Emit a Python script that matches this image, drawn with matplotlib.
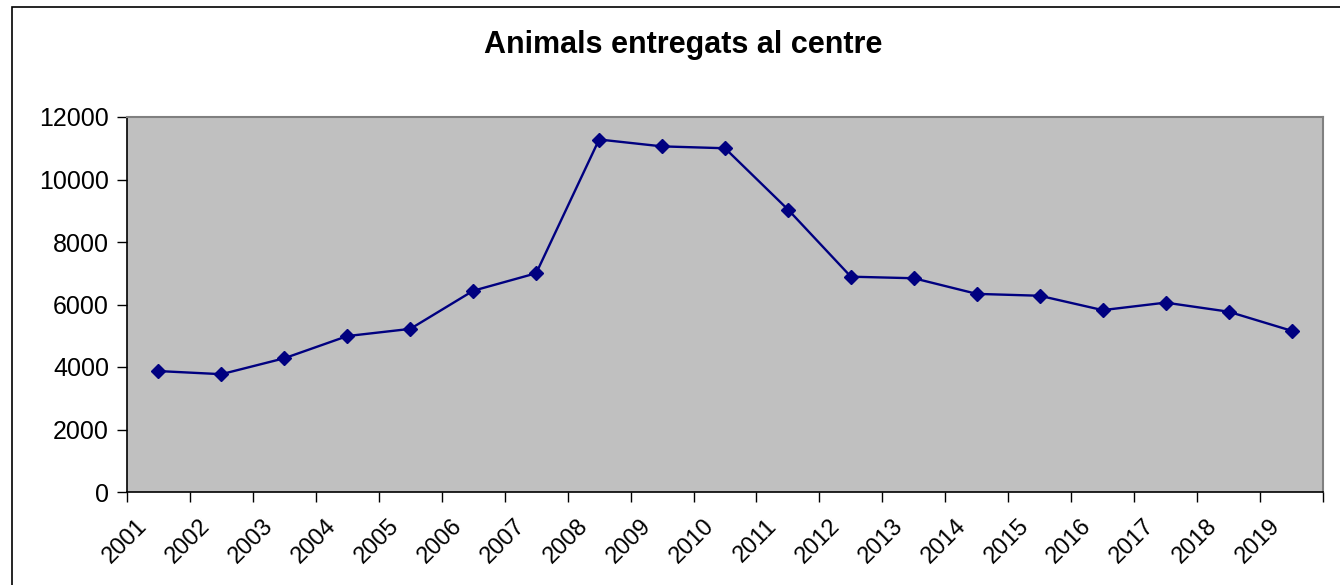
import matplotlib.pyplot as plt
from matplotlib.patches import Rectangle

plt.rcParams['font.family'] = ['Liberation Sans', 'DejaVu Sans']

# Dades
years = ['2001', '2002', '2003', '2004', '2005', '2006', '2007', '2008', '2009', '2010',
         '2011', '2012', '2013', '2014', '2015', '2016', '2017', '2018', '2019']
animals = [3870, 3770, 4280, 4990, 5220, 6440, 7000, 11280, 11060, 11000,
           9040, 6890, 6840, 6340, 6280, 5820, 6060, 5770, 5160]

fig = plt.figure(figsize=(13.4, 5.85), dpi=100)
ax = fig.add_axes([127 / 1340, 1 - 492 / 585, (1323 - 127) / 1340, (492 - 117) / 585])

# Marc exterior del gràfic
fig.patches.append(Rectangle((12 / 1340, -0.1), 1.2, 1 - 7 / 585 + 0.1,
                             transform=fig.transFigure, fill=False,
                             edgecolor='black', linewidth=1.2))

x = [i + 0.5 for i in range(len(years))]
ax.plot(x, animals, color='#000080', linewidth=1.7, marker='D', markersize=7,
        markerfacecolor='#000080', markeredgecolor='#000080')

ax.set_facecolor('#C0C0C0')
ax.set_xlim(0, len(years))
ax.set_ylim(0, 12000)
ax.set_yticks(range(0, 12001, 2000))
ax.set_xticks(range(len(years) + 1))
ax.set_xticklabels([])
# etiquetes una mica a l'esquerra del centre de la categoria, com a Excel
ax.set_xticks([i + 0.27 for i in range(len(years))], minor=True)
ax.set_xticklabels(years, minor=True, rotation=45, ha='right', va='center',
                   rotation_mode='anchor', fontsize=17)
ax.tick_params(axis='x', which='minor', length=0, pad=22)
ax.tick_params(axis='x', which='major', direction='out', length=7, width=1)
ax.tick_params(axis='y', direction='out', length=7, width=1, labelsize=18, pad=6)

for side in ['top', 'right']:
    ax.spines[side].set_color('#808080')
    ax.spines[side].set_linewidth(1.5)
for side in ['left', 'bottom']:
    ax.spines[side].set_color('black')
    ax.spines[side].set_linewidth(1.2)

fig.text(683 / 1340, 1 - 45 / 585, 'Animals entregats al centre', ha='center', va='center',
         fontsize=22, fontweight='bold')

fig.savefig('out.png', dpi=100)
